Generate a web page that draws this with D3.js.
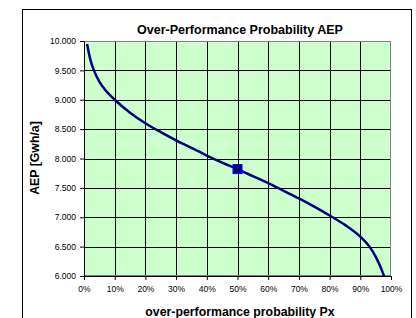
<!DOCTYPE html>
<html>
<head>
<meta charset="utf-8">
<script src="https://cdn.jsdelivr.net/npm/d3@7.9.0/dist/d3.min.js"></script>
<style>
  body { margin: 0; background: #fff; }
  text { font-family: "Liberation Sans", Arial, sans-serif; }
</style>
</head>
<body>
<svg id="chart" width="416" height="318"></svg>
<script>
// Curve: over-performance probability (%) vs AEP (GWh/a)
const probs = [1, 2, 3, 4, 5, 7, 10, 15, 20, 25, 30, 35, 40, 45, 50, 55, 60, 65, 70, 75, 80, 85, 90, 93, 95, 97, 98];
const aep = [9.95, 9.7, 9.53, 9.41, 9.31, 9.16, 9.0, 8.78, 8.6, 8.45, 8.31, 8.18, 8.05, 7.93, 7.82, 7.7, 7.58, 7.45, 7.32, 7.18, 7.03, 6.87, 6.67, 6.5, 6.33, 6.1, 5.96];
// P50 marker
const p50 = { x: 50, y: 7.82 };
const xTicks = [0, 10, 20, 30, 40, 50, 60, 70, 80, 90, 100];
const yTicks = [6, 6.5, 7, 7.5, 8, 8.5, 9, 9.5, 10];

const svg = d3.select("#chart");

// outer frame
svg.append("rect")
  .attr("x", 22.5).attr("y", 9.5)
  .attr("width", 389).attr("height", 320)
  .attr("fill", "#fff").attr("stroke", "#000").attr("stroke-width", 1);

const plotL = 84, plotR = 391, plotT = 41, plotB = 276;
const x = d3.scaleLinear().domain([0, 100]).range([plotL, plotR]);
const y = d3.scaleLinear().domain([6, 10]).range([plotB, plotT]);

// plot background
svg.append("rect")
  .attr("x", plotL).attr("y", plotT)
  .attr("width", plotR - plotL).attr("height", plotB - plotT)
  .attr("fill", "#ccffcc");

// grid
svg.append("g").selectAll("line").data(xTicks.slice(1, -1)).join("line")
  .attr("x1", d => Math.round(x(d)) + 0.5).attr("x2", d => Math.round(x(d)) + 0.5)
  .attr("y1", plotT).attr("y2", plotB)
  .attr("stroke", "#000").attr("stroke-width", 1);
svg.append("g").selectAll("line").data(yTicks.slice(1, -1)).join("line")
  .attr("y1", d => Math.round(y(d)) + 0.5).attr("y2", d => Math.round(y(d)) + 0.5)
  .attr("x1", plotL).attr("x2", plotR)
  .attr("stroke", "#000").attr("stroke-width", 1);

// plot border
svg.append("rect")
  .attr("x", plotL + 0.5).attr("y", plotT + 0.5)
  .attr("width", plotR - plotL - 1).attr("height", plotB - plotT - 1)
  .attr("fill", "none").attr("stroke", "#808080").attr("stroke-width", 1);

// axes
const xAxis = d3.axisBottom(x).tickValues(xTicks).tickSize(4).tickFormat(d => d + "%");
const yAxis = d3.axisLeft(y).tickValues(yTicks).tickSize(4).tickFormat(d3.format(".3f"));

const gx = svg.append("g").attr("transform", `translate(0,${plotB})`).call(xAxis);
const gy = svg.append("g").attr("transform", `translate(${plotL},0)`).call(yAxis);
[gx, gy].forEach(g => {
  g.select(".domain").attr("stroke", "#000");
  g.selectAll(".tick line").attr("stroke", "#000");
  g.selectAll(".tick text").attr("font-size", "8.5px").attr("fill", "#000");
});
gx.selectAll(".tick text").attr("dy", "1.1em");
gy.selectAll(".tick text").attr("dx", "-1px");

// curve
svg.append("clipPath").attr("id", "clip")
  .append("rect").attr("x", plotL).attr("y", plotT).attr("width", plotR - plotL).attr("height", plotB - plotT);

const line = d3.line()
  .x((d, i) => x(probs[i]))
  .y(d => y(d))
  .curve(d3.curveMonotoneX);

svg.append("path")
  .datum(aep)
  .attr("clip-path", "url(#clip)")
  .attr("d", line)
  .attr("fill", "none")
  .attr("stroke", "#000080")
  .attr("stroke-width", 2.5);

// P50 marker
svg.append("rect")
  .attr("x", x(p50.x) - 4.5).attr("y", y(p50.y) - 4.5)
  .attr("width", 9).attr("height", 9)
  .attr("fill", "#000080").attr("stroke", "#0000ff").attr("stroke-width", 1);

// titles
svg.append("text")
  .attr("x", 240).attr("y", 34)
  .attr("text-anchor", "middle")
  .attr("font-size", "12.5px").attr("font-weight", "bold")
  .text("Over-Performance Probability AEP");

svg.append("text")
  .attr("x", 240).attr("y", 316)
  .attr("text-anchor", "middle")
  .attr("font-size", "12.3px").attr("font-weight", "bold")
  .text("over-performance probability Px");

svg.append("text")
  .attr("transform", "translate(39,158) rotate(-90)")
  .attr("text-anchor", "middle")
  .attr("font-size", "12.3px").attr("font-weight", "bold")
  .text("AEP [Gwh/a]");
</script>
</body>
</html>
